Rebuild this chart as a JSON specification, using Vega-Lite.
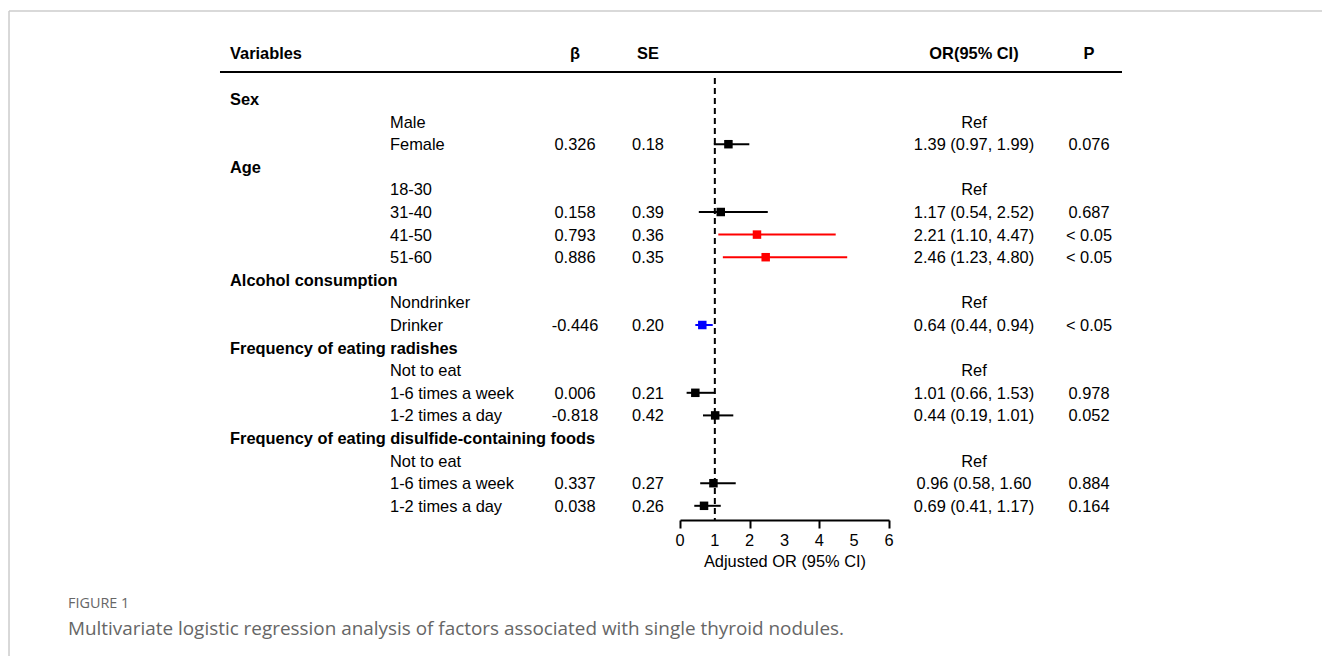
{
  "$schema": "https://vega.github.io/schema/vega-lite/v6.json",
  "autosize": {"type": "none"},
  "padding": {"left": 680, "top": 76, "right": 433, "bottom": 136},
  "width": 209,
  "height": 444,
  "background": "white",
  "config": {
    "view": {"stroke": null},
    "font": "Liberation Sans",
    "text": {"font": "Liberation Sans", "fontSize": 16.4, "baseline": "middle", "color": "#000000", "dy": 1}
  },
  "datasets": {
    "one": [{"k": 1}],
    "ticks": [{"t": 0}, {"t": 1}, {"t": 2}, {"t": 3}, {"t": 4}, {"t": 5}, {"t": 6}],
    "rows": [
      {"row": 0, "group": "Sex"},
      {"row": 1, "label": "Male", "ortext": "Ref"},
      {"row": 2, "label": "Female", "beta": "0.326", "se": "0.18", "ortext": "1.39 (0.97, 1.99)", "p": "0.076", "or": 1.39, "lo": 0.97, "hi": 1.99, "effect": "ns"},
      {"row": 3, "group": "Age"},
      {"row": 4, "label": "18-30", "ortext": "Ref"},
      {"row": 5, "label": "31-40", "beta": "0.158", "se": "0.39", "ortext": "1.17 (0.54, 2.52)", "p": "0.687", "or": 1.17, "lo": 0.54, "hi": 2.52, "effect": "ns"},
      {"row": 6, "label": "41-50", "beta": "0.793", "se": "0.36", "ortext": "2.21 (1.10, 4.47)", "p": "< 0.05", "or": 2.21, "lo": 1.10, "hi": 4.47, "effect": "risk"},
      {"row": 7, "label": "51-60", "beta": "0.886", "se": "0.35", "ortext": "2.46 (1.23, 4.80)", "p": "< 0.05", "or": 2.46, "lo": 1.23, "hi": 4.80, "effect": "risk"},
      {"row": 8, "group": "Alcohol consumption"},
      {"row": 9, "label": "Nondrinker", "ortext": "Ref"},
      {"row": 10, "label": "Drinker", "beta": "-0.446", "se": "0.20", "ortext": "0.64 (0.44, 0.94)", "p": "< 0.05", "or": 0.64, "lo": 0.44, "hi": 0.94, "effect": "protective"},
      {"row": 11, "group": "Frequency of eating radishes"},
      {"row": 12, "label": "Not to eat", "ortext": "Ref"},
      {"row": 13, "label": "1-6 times a week", "beta": "0.006", "se": "0.21", "ortext": "1.01 (0.66, 1.53)", "p": "0.978", "or": 0.44, "lo": 0.19, "hi": 1.01, "effect": "ns"},
      {"row": 14, "label": "1-2 times a day", "beta": "-0.818", "se": "0.42", "ortext": "0.44 (0.19, 1.01)", "p": "0.052", "or": 1.01, "lo": 0.66, "hi": 1.53, "effect": "ns"},
      {"row": 15, "group": "Frequency of eating disulfide-containing foods"},
      {"row": 16, "label": "Not to eat", "ortext": "Ref"},
      {"row": 17, "label": "1-6 times a week", "beta": "0.337", "se": "0.27", "ortext": "0.96 (0.58, 1.60", "p": "0.884", "or": 0.96, "lo": 0.58, "hi": 1.60, "effect": "ns"},
      {"row": 18, "label": "1-2 times a day", "beta": "0.038", "se": "0.26", "ortext": "0.69 (0.41, 1.17)", "p": "0.164", "or": 0.69, "lo": 0.41, "hi": 1.17, "effect": "ns"}
    ]
  },
  "data": {"name": "rows"},
  "layer": [
    {
      "data": {"name": "one"},
      "mark": {"type": "rule", "color": "#cccccc", "strokeWidth": 1.5},
      "encoding": {
        "x": {"datum": -19.263, "type": "quantitative", "scale": {"domain": [0, 6], "nice": false, "zero": false}},
        "x2": {"datum": 18.43},
        "y": {"datum": -3.894, "type": "quantitative", "scale": {"domain": [-1.018, 18.628], "reverse": true, "nice": false, "zero": false}, "axis": null}
      }
    },
    {
      "data": {"name": "one"},
      "mark": {"type": "rule", "color": "#cccccc", "strokeWidth": 1.5},
      "encoding": {
        "x": {"datum": -19.263, "type": "quantitative"},
        "y": {"datum": -3.894, "type": "quantitative", "axis": null},
        "y2": {"datum": 24.646}
      }
    },
    {
      "data": {"name": "one"},
      "mark": {"type": "text", "text": "Variables", "fontWeight": "bold", "align": "left"},
      "encoding": {"x": {"datum": -12.919, "type": "quantitative"}, "y": {"datum": -2.035, "type": "quantitative", "axis": null}}
    },
    {
      "data": {"name": "one"},
      "mark": {"type": "text", "text": "β", "fontWeight": "bold", "align": "center"},
      "encoding": {"x": {"datum": -3.014, "type": "quantitative"}, "y": {"datum": -2.035, "type": "quantitative", "axis": null}}
    },
    {
      "data": {"name": "one"},
      "mark": {"type": "text", "text": "SE", "fontWeight": "bold", "align": "center"},
      "encoding": {"x": {"datum": -0.919, "type": "quantitative"}, "y": {"datum": -2.035, "type": "quantitative", "axis": null}}
    },
    {
      "data": {"name": "one"},
      "mark": {"type": "text", "text": "OR(95% CI)", "fontWeight": "bold", "align": "center"},
      "encoding": {"x": {"datum": 8.44, "type": "quantitative"}, "y": {"datum": -2.035, "type": "quantitative", "axis": null}}
    },
    {
      "data": {"name": "one"},
      "mark": {"type": "text", "text": "P", "fontWeight": "bold", "align": "center"},
      "encoding": {"x": {"datum": 11.742, "type": "quantitative"}, "y": {"datum": -2.035, "type": "quantitative", "axis": null}}
    },
    {
      "data": {"name": "one"},
      "mark": {"type": "rule", "color": "#000000", "strokeWidth": 2},
      "encoding": {
        "x": {"datum": -13.206, "type": "quantitative"},
        "x2": {"datum": 12.689},
        "y": {"datum": -1.195, "type": "quantitative", "axis": null}
      }
    },
    {
      "transform": [{"filter": "isValid(datum.group)"}],
      "mark": {"type": "text", "fontWeight": "bold", "align": "left"},
      "encoding": {
        "x": {"datum": -12.919, "type": "quantitative"},
        "y": {"field": "row", "type": "quantitative", "axis": null},
        "text": {"field": "group"}
      }
    },
    {
      "transform": [{"filter": "isValid(datum.label)"}],
      "mark": {"type": "text", "align": "left"},
      "encoding": {
        "x": {"datum": -8.325, "type": "quantitative"},
        "y": {"field": "row", "type": "quantitative", "axis": null},
        "text": {"field": "label"}
      }
    },
    {
      "transform": [{"filter": "isValid(datum.beta)"}],
      "mark": {"type": "text", "align": "center"},
      "encoding": {
        "x": {"datum": -3.014, "type": "quantitative"},
        "y": {"field": "row", "type": "quantitative", "axis": null},
        "text": {"field": "beta"}
      }
    },
    {
      "transform": [{"filter": "isValid(datum.se)"}],
      "mark": {"type": "text", "align": "center"},
      "encoding": {
        "x": {"datum": -0.919, "type": "quantitative"},
        "y": {"field": "row", "type": "quantitative", "axis": null},
        "text": {"field": "se"}
      }
    },
    {
      "transform": [{"filter": "isValid(datum.ortext)"}],
      "mark": {"type": "text", "align": "center"},
      "encoding": {
        "x": {"datum": 8.44, "type": "quantitative"},
        "y": {"field": "row", "type": "quantitative", "axis": null},
        "text": {"field": "ortext"}
      }
    },
    {
      "transform": [{"filter": "isValid(datum.p)"}],
      "mark": {"type": "text", "align": "center"},
      "encoding": {
        "x": {"datum": 11.742, "type": "quantitative"},
        "y": {"field": "row", "type": "quantitative", "axis": null},
        "text": {"field": "p"}
      }
    },
    {
      "data": {"name": "one"},
      "mark": {"type": "rule", "color": "#000000", "strokeWidth": 2, "strokeDash": [6, 4]},
      "encoding": {
        "x": {"datum": 1, "type": "quantitative"},
        "y": {"datum": -0.93, "type": "quantitative", "axis": null},
        "y2": {"datum": 18.628}
      }
    },
    {
      "transform": [{"filter": "isValid(datum.or)"}],
      "mark": {"type": "rule", "strokeWidth": 2},
      "encoding": {
        "x": {
          "field": "lo", "type": "quantitative", "title": "Adjusted OR (95% CI)",
          "axis": {"values": [0, 1, 2, 3, 4, 5, 6], "labels": false, "grid": false, "domainColor": "#000000", "domainWidth": 2, "tickColor": "#000000", "tickWidth": 2, "tickSize": 8, "titleFont": "Liberation Sans", "titleFontSize": 16.4, "titleFontWeight": "normal", "titleColor": "#000000", "titlePadding": 24}
        },
        "x2": {"field": "hi"},
        "y": {"field": "row", "type": "quantitative", "axis": null},
        "color": {"field": "effect", "type": "nominal", "scale": {"domain": ["ns", "risk", "protective"], "range": ["#000000", "#ff0000", "#0000ff"]}, "legend": null}
      }
    },
    {
      "transform": [{"filter": "isValid(datum.or)"}],
      "mark": {"type": "square", "filled": true, "opacity": 1, "size": 72},
      "encoding": {
        "x": {"field": "or", "type": "quantitative"},
        "y": {"field": "row", "type": "quantitative", "axis": null},
        "color": {"field": "effect", "type": "nominal", "scale": {"domain": ["ns", "risk", "protective"], "range": ["#000000", "#ff0000", "#0000ff"]}, "legend": null}
      }
    },
    {
      "data": {"name": "ticks"},
      "mark": {"type": "text", "align": "center"},
      "encoding": {
        "x": {"field": "t", "type": "quantitative"},
        "y": {"datum": 19.52, "type": "quantitative", "axis": null},
        "text": {"field": "t", "type": "quantitative", "format": "d"}
      }
    },
    {
      "data": {"name": "one"},
      "mark": {"type": "text", "text": "FIGURE 1", "align": "left", "font": "Open Sans", "fontSize": 14.4, "color": "#666666"},
      "encoding": {"x": {"datum": -17.57, "type": "quantitative"}, "y": {"datum": 22.301, "type": "quantitative", "axis": null}}
    },
    {
      "data": {"name": "one"},
      "mark": {"type": "text", "text": "Multivariate logistic regression analysis of factors associated with single thyroid nodules.", "align": "left", "font": "Open Sans", "fontSize": 18.9, "color": "#666666"},
      "encoding": {"x": {"datum": -17.57, "type": "quantitative"}, "y": {"datum": 23.407, "type": "quantitative", "axis": null}}
    }
  ]
}
